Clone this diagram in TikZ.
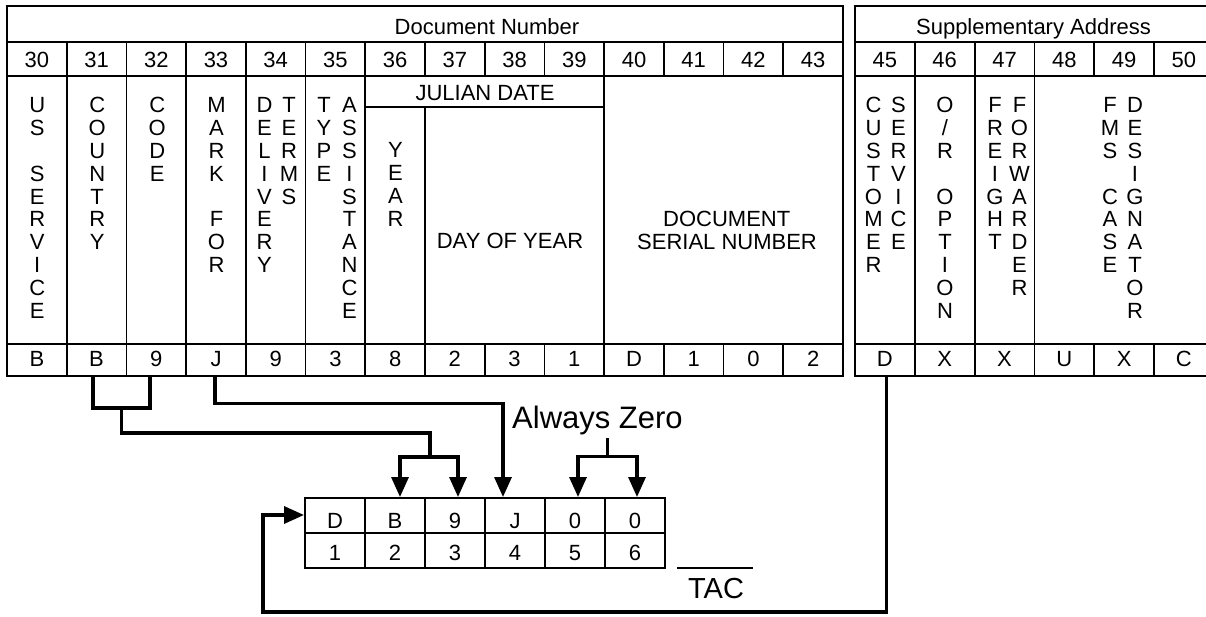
\documentclass[tikz,border=0pt]{standalone}
\usepackage{fontspec}
\setmainfont{Liberation Sans}
\usetikzlibrary{arrows.meta}
\newcommand\fsz{\fontsize{22pt}{22.8pt}\selectfont}
\newcommand\fbig{\fontsize{29pt}{32pt}\selectfont}
\newcommand\fbigger{\fontsize{31pt}{34pt}\selectfont}
\newcommand\vstk[1]{\vtop{\baselineskip=22.8pt\lineskiplimit=-50pt\lineskip=0pt\halign{\hfil##\hfil\cr#1\crcr}}}
\begin{document}
\begin{tikzpicture}[x=1pt,y=-1pt,
  txt/.style={inner sep=0pt,anchor=base,font=\fsz},
  gridline/.style={line width=1.8pt},
  topline/.style={line width=2.8pt},
  conn/.style={line width=3.3pt},
  arr/.style={conn,-{Triangle[length=20pt,width=17pt]}}]
\useasboundingbox (0,0) rectangle (1206,617);

% ---------- left table grid ----------
\draw[gridline] (7,6) rectangle (843,376);
\draw[topline] (5.7,6) -- (844.3,6);
\foreach \yy in {42,76,344} \draw[gridline] (7,\yy) -- (843,\yy);
\foreach \i in {1,...,13} {
  \draw[gridline] ({7+\i*59.714},42) -- ({7+\i*59.714},76);
  \draw[gridline] ({7+\i*59.714},344) -- ({7+\i*59.714},376);
}
\foreach \i in {1,...,6,10} \draw[gridline] ({7+\i*59.714},76) -- ({7+\i*59.714},344);
\draw[gridline] ({7+7*59.714},107) -- ({7+7*59.714},344);
\draw[gridline] ({7+6*59.714},107) -- ({7+10*59.714},107);

% ---------- right table grid ----------
\draw[gridline] (855,6) rectangle (1214,376);
\draw[topline] (853.7,6) -- (1215,6);
\foreach \yy in {42,76,344} \draw[gridline] (855,\yy) -- (1214,\yy);
\foreach \i in {1,...,5} {
  \draw[gridline] ({855+\i*59.8},42) -- ({855+\i*59.8},76);
  \draw[gridline] ({855+\i*59.8},344) -- ({855+\i*59.8},376);
}
\foreach \i in {1,2,3} \draw[gridline] ({855+\i*59.8},76) -- ({855+\i*59.8},344);

% ---------- headers ----------
\node[txt] (hdoc) at (487,34.3) {Document Number};
\node[txt] (hsup) at (1033.5,34.3) {Supplementary Address};
\foreach \n [count=\i from 0] in {30,...,43}
  \node[txt] (c\n) at ({7+(\i+0.5)*59.714},67.5) {\n};
\foreach \n [count=\i from 0] in {45,...,50}
  \node[txt] (c\n) at ({855+(\i+0.5)*59.8},67.5) {\n};

% ---------- vertical labels ----------
\node[txt] (lus) at (37.2,113) {\vstk{U\cr S\cr\cr S\cr E\cr R\cr V\cr I\cr C\cr E}};
\node[txt] (lcountry) at (97.2,113) {\vstk{C\cr O\cr U\cr N\cr T\cr R\cr Y}};
\node[txt] (lcode) at (157.2,113) {\vstk{C\cr O\cr D\cr E}};
\node[txt] (lmark) at (216.5,113) {\vstk{M\cr A\cr R\cr K\cr\cr F\cr O\cr R}};
\node[txt] (ldeliv) at (264.5,113) {\vstk{D\cr E\cr L\cr I\cr V\cr E\cr R\cr Y}};
\node[txt] (lterms) at (289,113) {\vstk{T\cr E\cr R\cr M\cr S}};
\node[txt] (ltype) at (324,113) {\vstk{T\cr Y\cr P\cr E}};
\node[txt] (lassist) at (349.5,113) {\vstk{A\cr S\cr S\cr I\cr S\cr T\cr A\cr N\cr C\cr E}};
\node[txt] (lyear) at (395.5,158) {\vstk{Y\cr E\cr A\cr R}};
\node[txt] (ljul) at (485,101) {JULIAN DATE};
\node[txt] (ldoy) at (510,249) {DAY OF YEAR};
\node[txt] (ldsn1) at (726.7,227) {DOCUMENT};
\node[txt] (ldsn2) at (727,250) {SERIAL NUMBER};
\node[txt] (lcust) at (873.5,113) {\vstk{C\cr U\cr S\cr T\cr O\cr M\cr E\cr R}};
\node[txt] (lserv) at (898.5,113) {\vstk{S\cr E\cr R\cr V\cr I\cr C\cr E}};
\node[txt] (lor) at (945,113) {\vstk{O\cr /\cr R\cr\cr O\cr P\cr T\cr I\cr O\cr N}};
\node[txt] (lfreight) at (995,113) {\vstk{F\cr R\cr E\cr I\cr G\cr H\cr T}};
\node[txt] (lfwd) at (1019.5,113) {\vstk{F\cr O\cr R\cr W\cr A\cr R\cr D\cr E\cr R}};
\node[txt] (lfms) at (1110,113) {\vstk{F\cr M\cr S\cr\cr C\cr A\cr S\cr E}};
\node[txt] (ldesig) at (1135,113) {\vstk{D\cr E\cr S\cr I\cr G\cr N\cr A\cr T\cr O\cr R}};

% ---------- values ----------
\foreach \v [count=\i from 0] in {B,B,9,J,9,3,8,2,3,1,D,1,0,2}
  \node[txt] (v\i) at ({7+(\i+0.5)*59.714},366.5) {\v};
\foreach \v [count=\i from 0] in {D,X,X,U,X,C}
  \node[txt] (w\i) at ({855+(\i+0.5)*59.8},366.5) {\v};

% ---------- TAC table ----------
\draw[gridline] (305,498) rectangle (665,568);
\draw[gridline] (305,533) -- (665,533);
\foreach \i in {1,...,5} \draw[gridline] ({305+\i*60},498) -- ({305+\i*60},568);
\foreach \v [count=\i from 0] in {D,B,9,J,0,0}
  \node[txt] (t\i) at ({335+\i*60},528) {\v};
\foreach \v [count=\i from 0] in {1,2,3,4,5,6}
  \node[txt] (n\i) at ({335+\i*60},560) {\v};
\node[inner sep=0pt,anchor=base,font=\fbig] (tac) at (716,598.5) {TAC};
\coordinate (tacl) at (677,568);
\coordinate (tacr) at (753,568);
\draw[line width=2.4pt] (tacl) -- (tacr);
\node[inner sep=0pt,anchor=base west,font=\fbigger] (always) at (512,428) {Always Zero};

% ---------- connector points ----------
\coordinate (b1) at (93,376);
\coordinate (b2) at (150,376);
\coordinate (bk) at (121.5,408);
\coordinate (bm) at (430,433);
\coordinate (bn) at (430,457);
\coordinate (tip2) at (400,497);
\coordinate (tip3) at (458,497);
\coordinate (jv) at (215,376);
\coordinate (jc) at (503,403.5);
\coordinate (tip4) at (503,497);
\coordinate (za) at (607.5,438);
\coordinate (zj) at (607.5,456.5);
\coordinate (tip5) at (578,497);
\coordinate (tip6) at (637,497);
\coordinate (dv) at (886.5,376);
\coordinate (dl) at (263,612);
\coordinate (tip1) at (304,515);

% ---------- connectors ----------
\draw[conn] (b1) |- (bk) -| (b2);
\draw[conn] (bk) |- (bm) -- (bn);
\draw[arr] (bn) -| (tip2);
\draw[arr] (bn) -| (tip3);
\draw[arr] (jv) |- (jc) -- (tip4);
\draw[conn] (za) -- (zj);
\draw[arr] (zj) -| (tip5);
\draw[arr] (zj) -| (tip6);
\draw[arr] (dv) |- (dl) |- (tip1);
\end{tikzpicture}
\end{document}
